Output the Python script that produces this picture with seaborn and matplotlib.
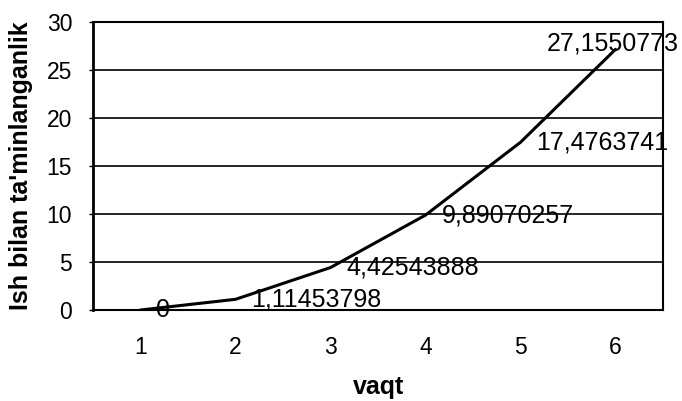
import matplotlib
matplotlib.use("Agg")
import matplotlib.pyplot as plt
import seaborn as sns
import pandas as pd

# values
vaqt = [1, 2, 3, 4, 5, 6]
taminlanganlik = [0, 1.11453798, 4.42543888, 9.89070257, 17.4763741, 27.1550773]
point_labels = ["0", "1,11453798", "4,42543888", "9,89070257", "17,4763741", "27,1550773"]
y_ticks = [0, 5, 10, 15, 20, 25, 30]

df = pd.DataFrame({"vaqt": vaqt, "ish": taminlanganlik})

sns.set_theme(style="white")
plt.rcParams["font.family"] = ["Liberation Sans", "DejaVu Sans"]
plt.rcParams["text.color"] = "black"
plt.rcParams["axes.labelcolor"] = "black"
plt.rcParams["xtick.color"] = "black"
plt.rcParams["ytick.color"] = "black"

fig = plt.figure(figsize=(6.82, 4.01), dpi=100)
ax = fig.add_axes([0.1364, 0.2269, 0.8358, 0.7182])

sns.lineplot(data=df, x="vaqt", y="ish", ax=ax, color="black", linewidth=2.2)

ax.set_xlim(0.5, 6.5)
ax.set_ylim(0, 30)
ax.set_xticks(vaqt)
ax.set_yticks(y_ticks)
ax.yaxis.grid(True, color="black", linewidth=1.2)
ax.set_axisbelow(True)

for s in ax.spines.values():
    s.set_color("black")
    s.set_linewidth(1.5)
ax.spines["left"].set_linewidth(2)

ax.tick_params(axis="y", length=3, width=1, color="black", pad=12, labelsize=16.5,
               labelcolor="black", left=True)
ax.tick_params(axis="x", length=0, pad=19, labelsize=16.5, labelcolor="black")

ax.set_xlabel("vaqt", fontsize=18, fontweight="bold", labelpad=11, color="black")
ax.set_ylabel("Ish bilan ta'minlanganlik", fontsize=18, fontweight="bold", color="black")
ax.yaxis.set_label_coords(-0.106, 0.5)

# data labels, Excel style: to the right of each point, last one above
for i, (x, y, lab) in enumerate(zip(vaqt, taminlanganlik, point_labels)):
    if i == len(vaqt) - 1:
        ax.annotate(lab, (x, y), xytext=(-2, 4.5), textcoords="offset points",
                    ha="center", va="center", fontsize=18, color="black")
    else:
        ax.annotate(lab, (x, y), xytext=(11.5, 0), textcoords="offset points",
                    ha="left", va="center", fontsize=18, color="black",
                    annotation_clip=False)

fig.savefig("out.png", dpi=100)
